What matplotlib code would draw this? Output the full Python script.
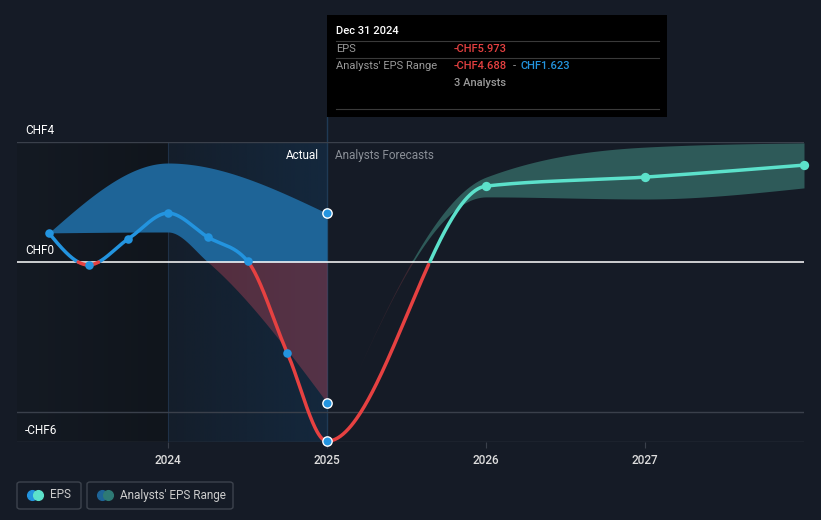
import numpy as np
import matplotlib.pyplot as plt
from matplotlib.patches import FancyBboxPatch
from matplotlib.colors import LinearSegmentedColormap

plt.rcParams['font.family'] = ['Roboto', 'DejaVu Sans']

# EPS history + forecast (CHF), x in decimal years
eps_x = [2023.25, 2023.5, 2023.75, 2024.0, 2024.25, 2024.5, 2024.75, 2025.0, 2026.0, 2027.0, 2028.0]
eps_y = [0.97, -0.10, 0.77, 1.63, 0.83, 0.03, -3.03, -5.973, 2.53, 2.83, 3.23]
n_past = 8  # points up to Dec 31 2024 are actuals

# analysts' range, past section
past_hi_x = [2023.25, 2024.0, 2025.0]
past_hi = [0.97, 3.30, 1.623]
past_lo_x = [2023.25, 2024.0, 2024.25, 2025.0]
past_lo = [0.97, 1.00, 0.0, -4.688]

# analysts' range, forecast section
fc_rng_x = [2025.0, 2026.0, 2027.0, 2028.0]
fc_hi = [-5.973, 2.83, 3.83, 3.97]
fc_lo = [-5.973, 2.17, 2.10, 2.47]

yticks = [4, 0, -6]
ytick_labels = ["CHF4", "CHF0", "-CHF6"]
xticks = [2024, 2025, 2026, 2027]

BG = "#151b26"
BLUE = "#2394df"
RED = "#e64141"
TEAL = "#5ce1cb"


def monotone(xs, ys, n=60):
    # d3 curveMonotoneX style interpolation
    x = np.asarray(xs, float)
    y = np.asarray(ys, float)
    m = len(x)
    t = np.zeros(m)
    for i in range(1, m - 1):
        h0, h1 = x[i] - x[i - 1], x[i + 1] - x[i]
        s0, s1 = (y[i] - y[i - 1]) / h0, (y[i + 1] - y[i]) / h1
        p = (s0 * h1 + s1 * h0) / (h0 + h1)
        t[i] = (np.sign(s0) + np.sign(s1)) * min(abs(s0), abs(s1), 0.5 * abs(p))
    if m > 2:
        t[0] = (3 * (y[1] - y[0]) / (x[1] - x[0]) - t[1]) / 2
        t[-1] = (3 * (y[-1] - y[-2]) / (x[-1] - x[-2]) - t[-2]) / 2
    else:
        t[:] = (y[1] - y[0]) / (x[1] - x[0])
    X, Y = [], []
    for i in range(m - 1):
        h = x[i + 1] - x[i]
        u = np.linspace(0, 1, n)
        h00 = 2 * u**3 - 3 * u**2 + 1
        h10 = u**3 - 2 * u**2 + u
        h01 = -2 * u**3 + 3 * u**2
        h11 = u**3 - u**2
        X.append(x[i] + u * h)
        Y.append(h00 * y[i] + h10 * h * t[i] + h01 * y[i + 1] + h11 * h * t[i + 1])
    return np.concatenate(X), np.concatenate(Y)


fig = plt.figure(figsize=(8.21, 5.20), dpi=100)
fig.patch.set_facecolor(BG)
ax = fig.add_axes([17 / 821, 78 / 520, 787 / 821, 300 / 520])
ax.set_facecolor(BG)
ax.set_xlim(2023.05, 2028.0)
ax.set_ylim(-6, 4)

# shaded periods (gradients)
grad = np.linspace(0, 1, 256).reshape(1, -1)
cm_left = LinearSegmentedColormap.from_list("l", ["#141a23", "#10151c"])
cm_act = LinearSegmentedColormap.from_list("a", ["#141e2b", "#14283d"])
ax.imshow(grad, cmap=cm_left, extent=[2023.05, 2024.0, -6, 4], aspect="auto", zorder=0)
ax.imshow(grad, cmap=cm_act, extent=[2024.0, 2025.0, -6, 4], aspect="auto", zorder=0)
ax.axvline(2024.0, color="#1f3148", lw=0.8, zorder=0.5)
ax.axvline(2025.0, ymin=0, ymax=1.0 + 25 / 300, color="#1f3a55", lw=1, clip_on=False, zorder=0.5)

# grid lines
for gy in [4, -5, -6]:
    ax.axhline(gy, color="#3a404b", lw=1, zorder=1)
ax.axhline(0, color="white", lw=1.1, zorder=3)

# bands
bx = np.linspace(past_hi_x[0], past_hi_x[-1], 400)
hx, hy = monotone(past_hi_x, past_hi)
lx_, ly_ = monotone(past_lo_x, past_lo)
bh = np.interp(bx, hx, hy)
bl = np.interp(bx, lx_, ly_)
ax.fill_between(bx, np.maximum(bl, 0), np.maximum(bh, 0), color="#1e6497", lw=0, zorder=2)
ax.fill_between(bx, np.minimum(bl, 0), np.minimum(bh, 0), color="#d24a5e", alpha=0.34, lw=0, zorder=2)

fx, fh = monotone(fc_rng_x, fc_hi)
_, fl = monotone(fc_rng_x, fc_lo)
ax.fill_between(fx, np.maximum(fl, 0), np.maximum(fh, 0), color="#2e5a59", lw=0, zorder=2)
ax.fill_between(fx, np.minimum(fl, 0), np.minimum(fh, 0), color="#3a2630", lw=0, zorder=2)

# EPS line
lx, ly = monotone(eps_x, eps_y, n=120)
past = lx <= 2025.0
fut = lx >= 2025.0
ax.plot(lx[past], np.where(ly[past] >= 0, ly[past], np.nan), color=BLUE, lw=2.5, zorder=4, solid_capstyle="round")
ax.plot(lx[past], np.where(ly[past] <= 0, ly[past], np.nan), color=RED, lw=2.5, zorder=4, solid_capstyle="round")
ax.plot(lx[fut], np.where(ly[fut] >= 0, ly[fut], np.nan), color=TEAL, lw=2.5, zorder=4, solid_capstyle="round")
ax.plot(lx[fut], np.where(ly[fut] <= 0, ly[fut], np.nan), color=RED, lw=2.5, zorder=4, solid_capstyle="round")

ax.scatter(eps_x[:n_past - 1], eps_y[:n_past - 1], s=38, color=BLUE, zorder=5, lw=0)
ax.scatter(eps_x[n_past:], eps_y[n_past:], s=45, color=TEAL, zorder=5, lw=0, clip_on=False)
ax.scatter([eps_x[n_past - 1], past_hi_x[-1], past_lo_x[-1]],
           [eps_y[n_past - 1], past_hi[-1], past_lo[-1]],
           s=45, color=BLUE, edgecolor="white", lw=1, zorder=6, clip_on=False)

# axes styling
for s in ax.spines.values():
    s.set_visible(False)
ax.set_yticks([])
ax.set_xticks(xticks)
ax.set_xticklabels([str(v) for v in xticks], fontsize=8.5, fontweight="medium")
ax.tick_params(axis="x", colors="#3a404b", length=4, pad=5, labelcolor="#dddddd")
for yv, lab in zip(yticks, ytick_labels):
    ax.text(2023.10, yv + 0.15, lab, color="white", fontsize=8.5, va="bottom", ha="left", zorder=6)

ax.text(2024.95, 3.55, "Actual", color="white", fontsize=8.5, ha="right", va="center", zorder=6)
ax.text(2025.05, 3.55, "Analysts Forecasts", color="#8a8f97", fontsize=8.5, ha="left", va="center", zorder=6)


def fy(py):
    return (520 - py) / 520


def fxp(px):
    return px / 821


# tooltip
fig.patches.append(FancyBboxPatch((fxp(327), fy(117)), 340 / 821, 102 / 520,
                                  boxstyle="square,pad=0", transform=fig.transFigure,
                                  facecolor="black", edgecolor="none", zorder=10))
fig.text(fxp(336), fy(31), "Dec 31 2024", color="white", fontsize=8, va="center", fontweight="medium", zorder=11)
for py in [41, 58, 109]:
    fig.add_artist(plt.Line2D([fxp(336), fxp(659)], [fy(py), fy(py)], color="#3a3a3a", lw=0.8,
                              transform=fig.transFigure, zorder=11))
fig.text(fxp(336), fy(49), "EPS", color="#9a9a9a", fontsize=8, va="center", zorder=11)
fig.text(fxp(454), fy(49), "-CHF5.973", color=RED, fontsize=8, va="center", fontweight="medium", zorder=11)
fig.text(fxp(336), fy(66), "Analysts' EPS Range", color="#9a9a9a", fontsize=8, va="center", zorder=11)
fig.text(fxp(454), fy(66), "-CHF4.688", color=RED, fontsize=8, va="center", fontweight="medium", zorder=11)
fig.text(fxp(513), fy(66), "-", color="#9a9a9a", fontsize=8, va="center", zorder=11)
fig.text(fxp(520), fy(66), "CHF1.623", color=BLUE, fontsize=8, va="center", fontweight="medium", zorder=11)
fig.text(fxp(454), fy(83), "3 Analysts", color="#9a9a9a", fontsize=8, va="center", fontweight="medium", zorder=11)

# legend boxes
for x0, w in [(17, 64), (87, 146)]:
    fig.patches.append(FancyBboxPatch((fxp(x0), fy(509)), w / 821, 27 / 520,
                                      boxstyle="round,pad=0,rounding_size=0.004",
                                      transform=fig.transFigure, facecolor="none",
                                      edgecolor="#3d434d", lw=1))
fig.add_artist(plt.Line2D([fxp(32)], [fy(495)], marker="o", ms=7, color=BLUE, transform=fig.transFigure))
fig.add_artist(plt.Line2D([fxp(38)], [fy(495)], marker="o", ms=7, color=TEAL, transform=fig.transFigure))
fig.text(fxp(50), fy(495), "EPS", color="#cccccc", fontsize=8.5, va="center")
fig.add_artist(plt.Line2D([fxp(102)], [fy(495)], marker="o", ms=7, color="#1e6497", transform=fig.transFigure))
fig.add_artist(plt.Line2D([fxp(108)], [fy(495)], marker="o", ms=7, color="#2e7a75", transform=fig.transFigure))
fig.text(fxp(120), fy(495), "Analysts' EPS Range", color="#cccccc", fontsize=8.5, va="center")

fig.savefig("out.png", dpi=100, facecolor=BG)
